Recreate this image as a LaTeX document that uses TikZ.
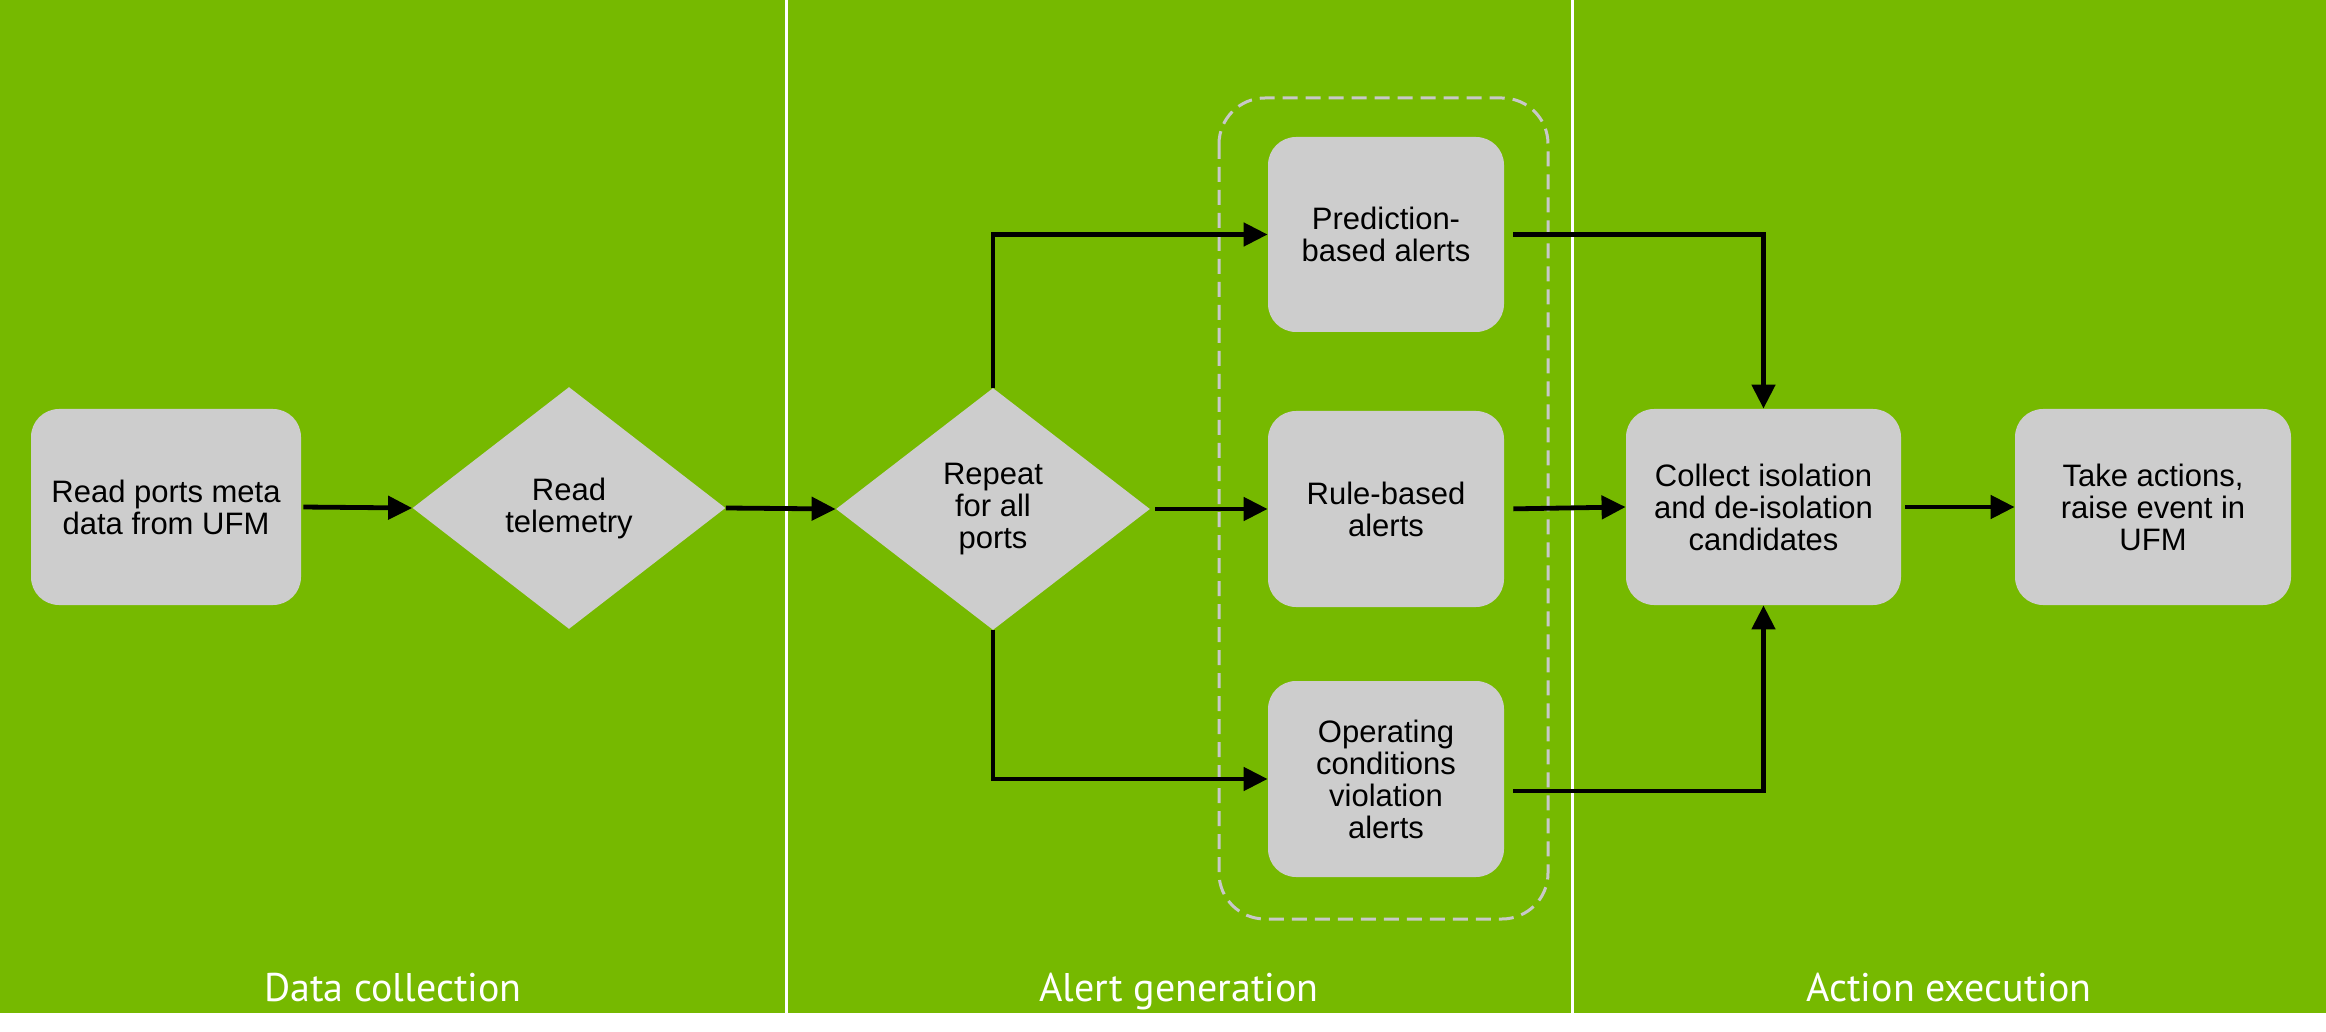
\documentclass[tikz,border=0pt]{standalone}
\usepackage{fontspec}
\setmainfont{Liberation Sans}
\newfontfamily\labelfont{PT Sans}
\usetikzlibrary{shapes.geometric,arrows.meta}
\definecolor{nvgreen}{HTML}{76B900}
\definecolor{boxgray}{HTML}{CDCDCD}
\definecolor{dashgray}{HTML}{C8C8C8}
\begin{document}
\begin{tikzpicture}[x=0.5pt,y=-0.5pt,
  stepbox/.style={rectangle, fill=boxgray, rounded corners=14pt,
    minimum width=118pt, minimum height=98pt, inner sep=0pt, align=center,
    font=\fontsize{15.5}{16}\selectfont},
  decision/.style={diamond, fill=boxgray, minimum width=157pt,
    minimum height=121pt, inner sep=0pt, align=center,
    font=\fontsize{15.5}{16}\selectfont},
  flow/.style={draw=black, line width=2.4pt, -{Triangle[length=12pt,width=11.5pt]}},
  divider/.style={draw=white, line width=1.5pt},
  group/.style={draw=dashgray, line width=1.5pt, dash pattern=on 7.5pt off 4pt, rounded corners=23pt},
  panel/.style={text=white, anchor=base, font=\labelfont\fontsize{20}{22}\selectfont}]

\useasboundingbox (0,0) rectangle (2326,1032);
\fill[white] (0,0) rectangle (2326,1032);
\fill[nvgreen] (0,0) rectangle (2326,1013);
\draw[divider] (786,0) -- (786,1013);
\draw[divider] (1572,0) -- (1572,1013);

\draw[group] (1219,98) rectangle (1548,919);

\node[stepbox, minimum width=135pt] (meta) at (166,507) {Read ports meta\\data from UFM};
\node[decision, minimum width=156.5pt] (tele) at (569,508) {Read\\telemetry};
\node[decision] (rep) at (993,509) {Repeat\\for all\\ports};
\node[stepbox, minimum height=97.5pt] (pred) at (1386,234.5) {Prediction-\\based alerts};
\node[stepbox] (rule) at (1386,509) {Rule-based\\alerts};
\node[stepbox] (oper) at (1386,779) {Operating\\conditions\\violation\\alerts};
\node[stepbox, minimum width=137.5pt] (coll) at (1763.5,507) {Collect isolation\\and de-isolation\\candidates};
\node[stepbox, minimum width=138pt] (take) at (2153,507) {Take actions,\\raise event in\\UFM};

\draw[flow, shorten <=1pt] (meta.east) -- (tele.west);
\draw[flow] (tele.east) -- (rep.west);
\draw[flow] (rep.north) |- (pred.west);
\draw[flow, shorten <=2.5pt] (rep.east) -- (rule.west);
\draw[flow] (rep.south) |- (oper.west);
\draw[flow, shorten <=4.5pt] (pred.east) -| (coll.north);
\draw[flow, shorten <=4.5pt] (rule.east) -- (coll.west);
\draw[flow, shorten <=4.5pt] ([yshift=-6pt]oper.east) -| (coll.south);
\draw[flow, shorten <=2pt] (coll.east) -- (take.west);

\node[panel] (lab1) at (393,1001) {Data collection};
\node[panel] (lab2) at (1179,1001) {Alert generation};
\node[panel] (lab3) at (1949,1001) {Action execution};
\end{tikzpicture}
\end{document}
